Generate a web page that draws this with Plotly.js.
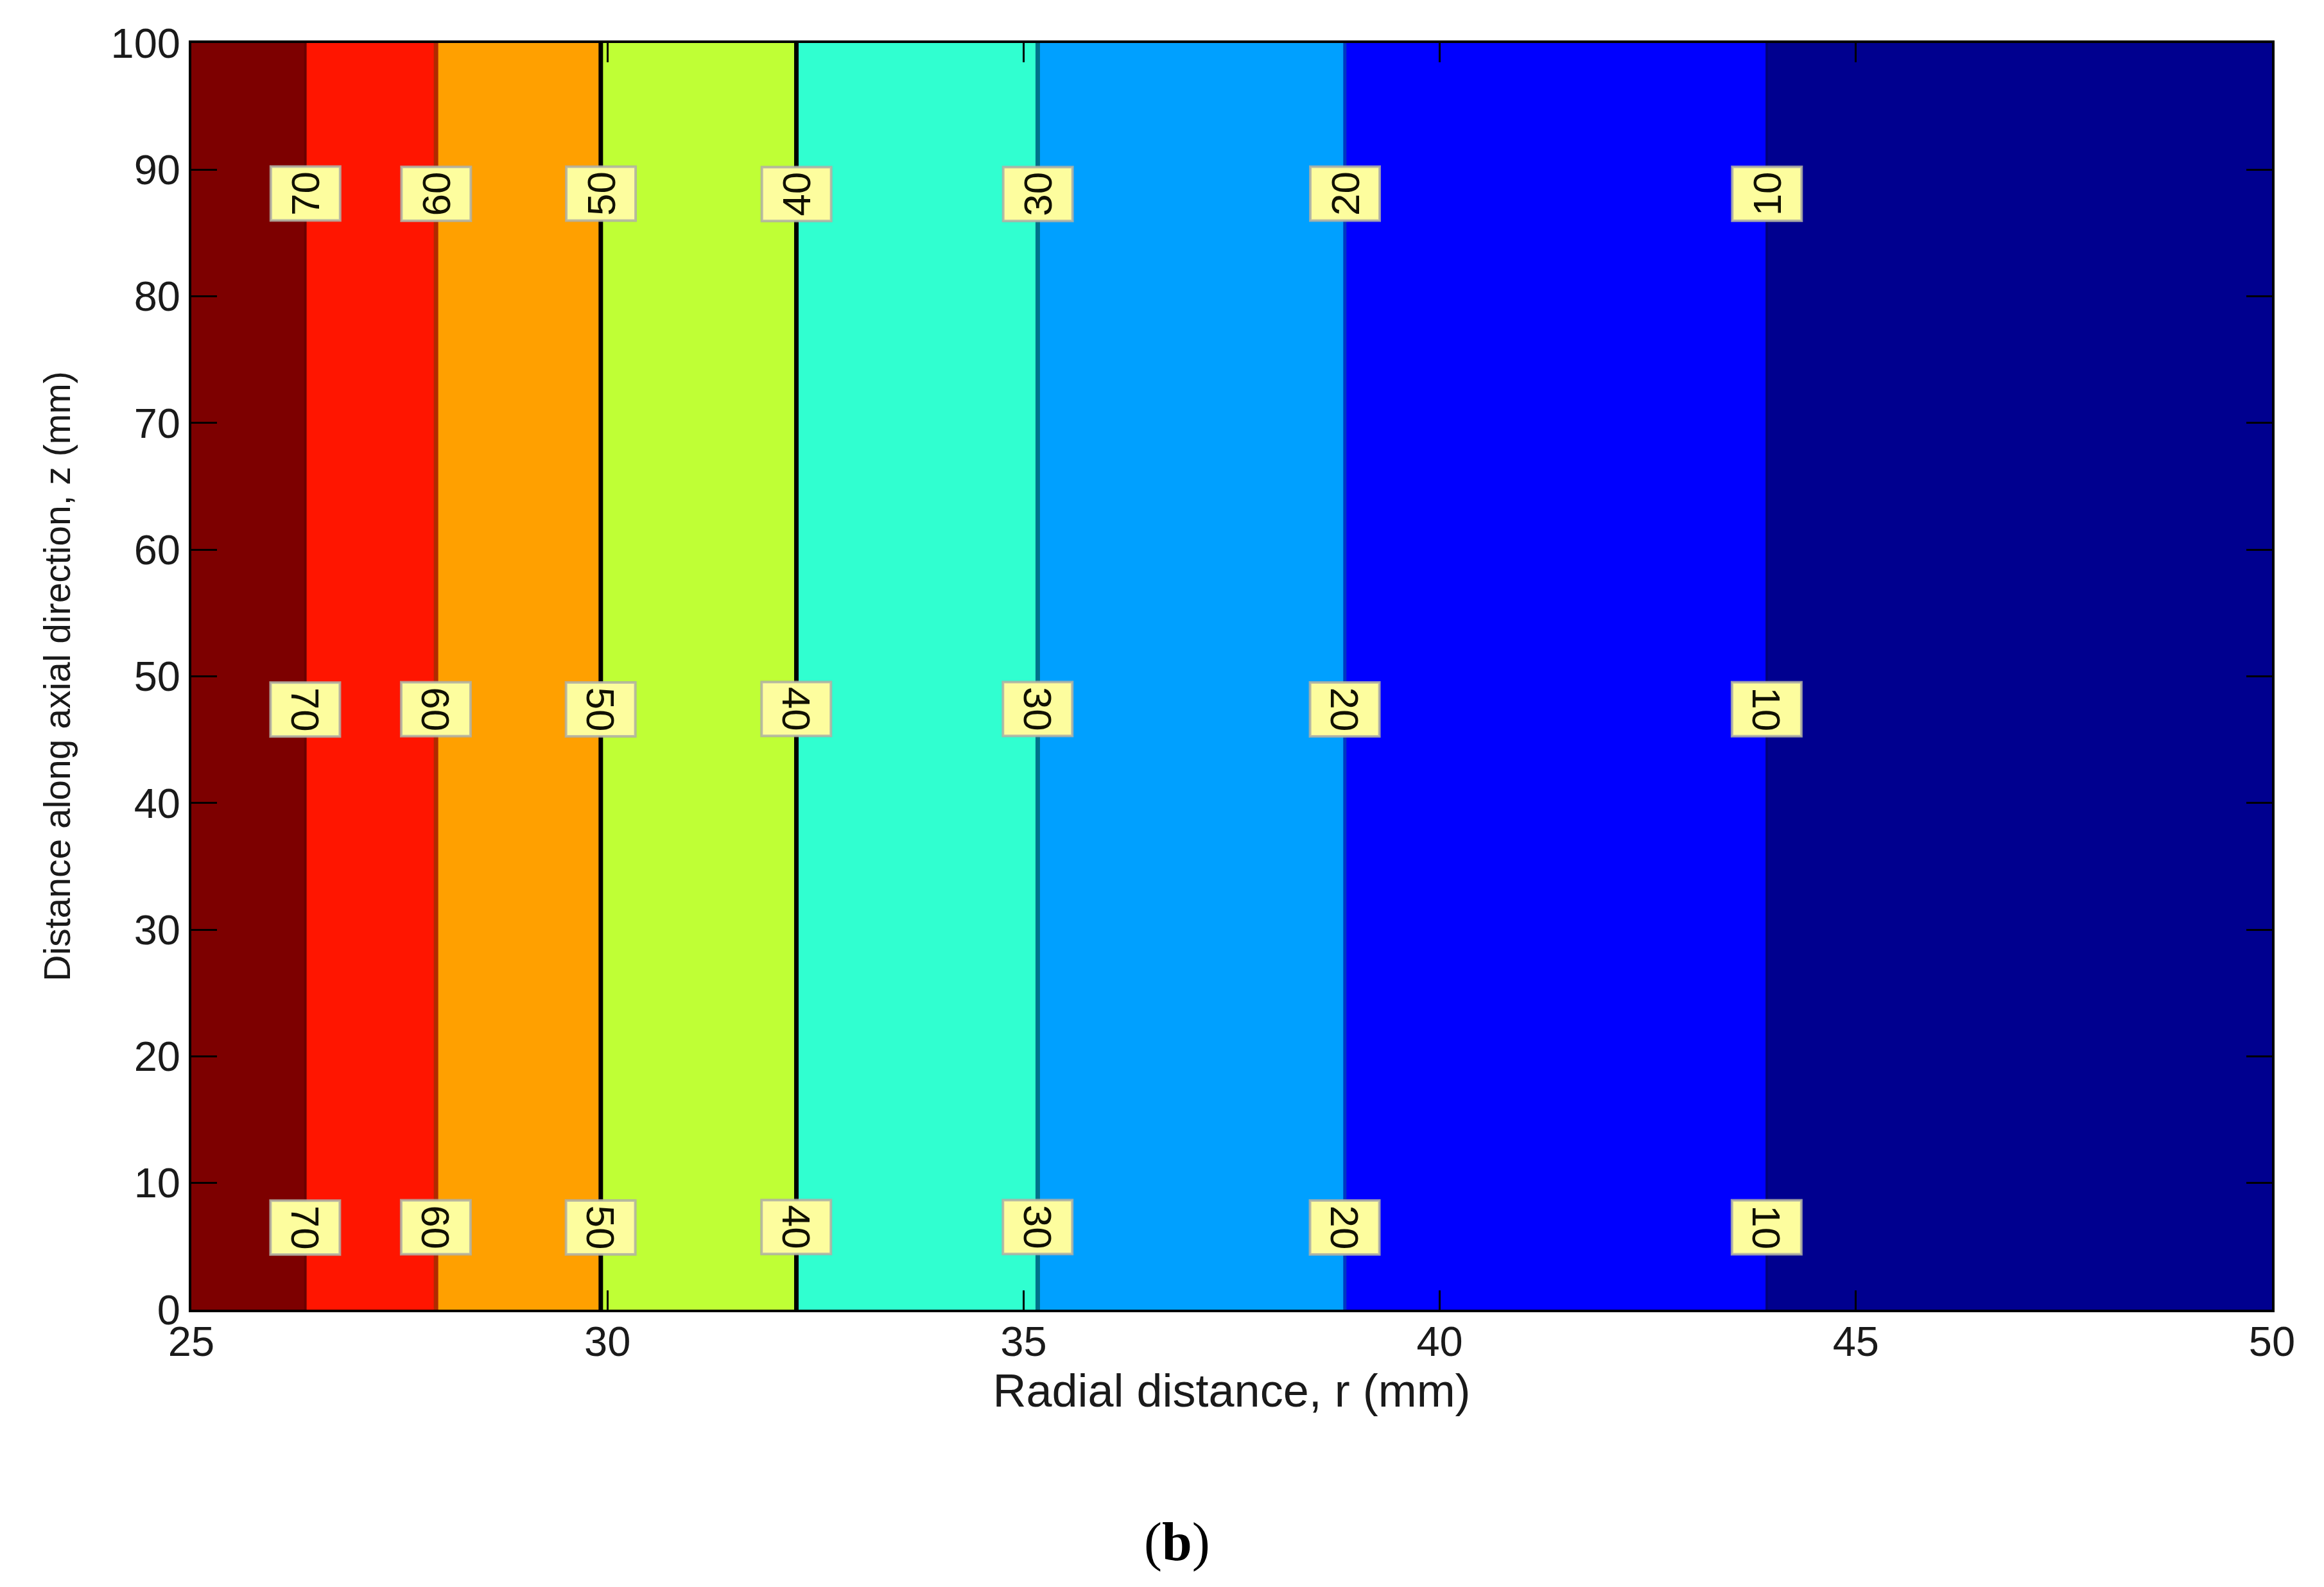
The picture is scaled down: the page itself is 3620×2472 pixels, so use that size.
<!DOCTYPE html>
<html>
<head>
<meta charset="utf-8">
<script src="https://cdn.plot.ly/plotly-3.0.1.min.js"></script>
<style>html,body{margin:0;padding:0;background:#fff}#chart{width:3620px;height:2472px}</style>
</head>
<body>
<div id="chart"></div>
<script>
// Data
const radialPoints = [25, 26.37, 27.94, 29.92, 32.27, 35.17, 38.86, 43.93, 50];
const fieldValues = [79, 70, 60, 50, 40, 30, 20, 10, 0];
const axialPoints = [0, 100];
const levelValues = [70, 60, 50, 40, 30, 20, 10];
const levelRadii = [26.37, 27.94, 29.92, 32.27, 35.17, 38.86, 43.93];
const labelRows = [88.1, 47.4, 6.5];
const labelAngles = [-90, 90, 90];
const xTicks = [25, 30, 35, 40, 45, 50];
const yTicks = [0, 10, 20, 30, 40, 50, 60, 70, 80, 90, 100];
const xTitle = 'Radial distance, r (mm)';
const yTitle = 'Distance along axial direction, z (mm)';
const caption = '(<b>b</b>)';

// Styles
const bandColors = ['#00008f', '#0000ff', '#00a0ff', '#30ffd0', '#bfff35', '#ffa000', '#ff1500', '#7d0000'];
const lineColors = ['#6a0000', '#b02a00', '#000000', '#000000', '#00708a', '#0038c0', '#00007a'];
const lineWidths = [4, 7, 7, 7, 7, 5, 4];

const W = 3620, H = 2472;
const margin = {l: 298, r: 81, t: 67, b: 432, pad: 0};
const stops = [];
bandColors.forEach((c, i) => {
  stops.push([i / bandColors.length, c]);
  stops.push([(i + 1) / bandColors.length, c]);
});

const traces = [{
  type: 'contour',
  x: radialPoints,
  y: axialPoints,
  z: axialPoints.map(() => fieldValues),
  zmin: 0, zmax: 80,
  autocontour: false,
  contours: {start: 10, end: 70, size: 10, coloring: 'fill', showlines: false},
  line: {width: 0, smoothing: 0},
  colorscale: stops,
  showscale: false,
  hoverinfo: 'skip'
}];
levelValues.forEach((lv, i) => {
  traces.push({
    type: 'scatter', mode: 'lines', name: String(lv),
    x: [levelRadii[i], levelRadii[i]], y: axialPoints,
    line: {color: lineColors[i], width: lineWidths[i]},
    showlegend: false, hoverinfo: 'skip'
  });
});

const annotations = [];
labelRows.forEach((row, r) => {
  levelValues.forEach((lv, i) => {
    annotations.push({
      x: levelRadii[i], y: row, xref: 'x', yref: 'y',
      text: String(lv), showarrow: false, textangle: labelAngles[r],
      font: {family: '"Liberation Sans",Arial,sans-serif', size: 62, color: '#111100'},
      bgcolor: '#fdfd9e', bordercolor: 'rgba(175,175,165,0.85)', borderwidth: 4, borderpad: 0,
      width: 80, height: 104, align: 'center', valign: 'middle'
    });
  });
});
annotations.push({
  xref: 'paper', yref: 'paper', x: (1833 - margin.l) / (W - margin.l - margin.r),
  y: (H - margin.b - 2402) / (H - margin.t - margin.b),
  xanchor: 'center', yanchor: 'middle',
  text: caption, showarrow: false,
  font: {family: '"Liberation Serif","Times New Roman",serif', size: 84, color: '#000'}
});

const axisCommon = {
  showgrid: false, zeroline: false, showline: true, linecolor: '#000', linewidth: 4,
  mirror: 'ticks', ticks: 'inside', tickcolor: '#000', tickwidth: 3,
  tickfont: {family: '"Liberation Sans",Arial,sans-serif', size: 65, color: '#1a1a1a'}
};
const layout = {
  width: W, height: H, margin: margin,
  paper_bgcolor: '#fff', plot_bgcolor: '#fff', showlegend: false,
  xaxis: Object.assign({}, axisCommon, {
    range: [25, 50], tickmode: 'array', tickvals: xTicks, ticktext: xTicks.map(String), ticklen: 30,
    ticklabelstandoff: -10,
    title: {text: xTitle, standoff: 0, font: {family: '"Liberation Sans",Arial,sans-serif', size: 72, color: '#1a1a1a'}}
  }),
  yaxis: Object.assign({}, axisCommon, {
    range: [0, 100], tickmode: 'array', tickvals: yTicks, ticktext: yTicks.map(String), ticklen: 40,
    title: {text: yTitle, standoff: 46, font: {family: '"Liberation Sans",Arial,sans-serif', size: 57, color: '#1a1a1a'}}
  }),
  annotations: annotations
};
Plotly.newPlot('chart', traces, layout, {displayModeBar: false, staticPlot: true});
</script>
</body>
</html>
